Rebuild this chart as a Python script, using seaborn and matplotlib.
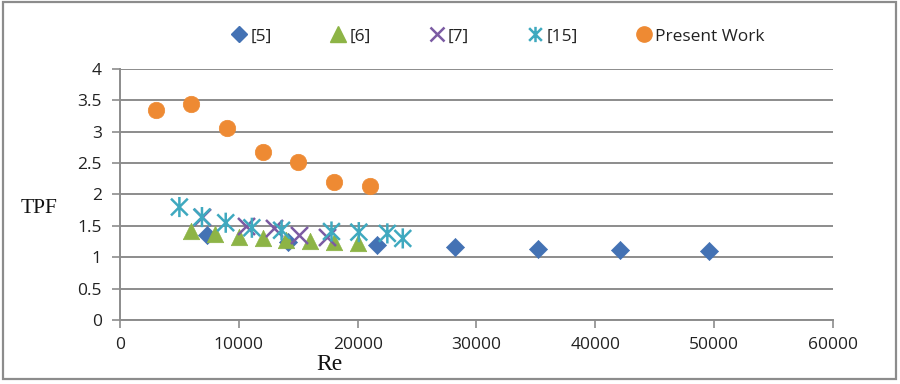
import matplotlib
matplotlib.use("Agg")
import matplotlib.pyplot as plt
from matplotlib.path import Path
from matplotlib.patches import Rectangle
from matplotlib.lines import Line2D
import seaborn as sns
import pandas as pd

# ---- data ----
re_5 = [7300, 14100, 21600, 28200, 35200, 42100, 49600]
tpf_5 = [1.36, 1.24, 1.20, 1.16, 1.13, 1.11, 1.10]

re_6 = [6000, 8000, 10000, 12000, 14000, 16000, 18000, 20000]
tpf_6 = [1.42, 1.37, 1.33, 1.30, 1.27, 1.26, 1.24, 1.22]

re_7 = [6900, 10600, 13000, 15100, 17400]
tpf_7 = [1.64, 1.50, 1.46, 1.36, 1.32]

re_15 = [5000, 6900, 8900, 11100, 13600, 17800, 20100, 22500, 23800]
tpf_15 = [1.80, 1.64, 1.55, 1.47, 1.43, 1.41, 1.40, 1.38, 1.30]

re_pw = [3000, 6000, 9000, 12000, 15000, 18000, 21000]
tpf_pw = [3.35, 3.45, 3.06, 2.67, 2.51, 2.20, 2.14]

labels = ["[5]", "[6]", "[7]", "[15]", "Present Work"]
x_ticks = [0, 10000, 20000, 30000, 40000, 50000, 60000]
y_ticks = [0, 0.5, 1, 1.5, 2, 2.5, 3, 3.5, 4]

# ---- style ----
sns.set_theme(style="white")
plt.rcParams["font.family"] = ["Open Sans", "DejaVu Sans"]

colors = ["#4472B4", "#8DB446", "#7B5BA3", "#3FA9BF", "#EE8A33"]

star = Path(
    [(-1, -1), (1, 1), (-1, 1), (1, -1), (0, -1.2), (0, 1.2)],
    [Path.MOVETO, Path.LINETO, Path.MOVETO, Path.LINETO, Path.MOVETO, Path.LINETO],
)

fig = plt.figure(figsize=(9, 3.84), dpi=100)
ax = fig.add_axes([0.1333, 0.1667, 0.7922, 0.6536])

# [5]
sns.scatterplot(data=pd.DataFrame({"Re": re_5, "TPF": tpf_5}), x="Re", y="TPF",
                ax=ax, marker="D", s=85, color=colors[0], edgecolor=colors[0],
                linewidth=0.5, zorder=3, legend=False)
# [6]
sns.scatterplot(data=pd.DataFrame({"Re": re_6, "TPF": tpf_6}), x="Re", y="TPF",
                ax=ax, marker="^", s=140, color=colors[1], edgecolor=colors[1],
                linewidth=0.5, zorder=3, legend=False)
# [7]
sns.scatterplot(data=pd.DataFrame({"Re": re_7, "TPF": tpf_7}), x="Re", y="TPF",
                ax=ax, marker="x", s=150, color=colors[2], linewidth=1.8,
                zorder=3, legend=False)
# [15]
sns.scatterplot(data=pd.DataFrame({"Re": re_15, "TPF": tpf_15}), x="Re", y="TPF",
                ax=ax, marker=star, s=210, color=colors[3], edgecolor=colors[3],
                facecolor="none", linewidth=1.8, zorder=3, legend=False)
# Present Work
sns.scatterplot(data=pd.DataFrame({"Re": re_pw, "TPF": tpf_pw}), x="Re", y="TPF",
                ax=ax, marker="o", s=140, color=colors[4], edgecolor=colors[4],
                linewidth=0.5, zorder=3, legend=False)

ax.set_xlim(0, 60000)
ax.set_ylim(0, 4)
ax.set_xticks(x_ticks)
ax.set_xticklabels([str(v) for v in x_ticks])
ax.set_yticks(y_ticks)
ax.set_yticklabels(["0", "0.5", "1", "1.5", "2", "2.5", "3", "3.5", "4"])

grid_c = "#8C8C8C"
ax.grid(axis="y", color=grid_c, linewidth=1.4)
ax.set_axisbelow(True)
for side in ["top", "right"]:
    ax.spines[side].set_visible(False)
for side in ["left", "bottom"]:
    ax.spines[side].set_color(grid_c)
    ax.spines[side].set_linewidth(1.4)
ax.tick_params(axis="both", which="major", direction="out", length=6,
               width=1.2, color=grid_c, labelsize=12.5, labelcolor="#222222",
               bottom=True, left=True)
ax.tick_params(axis="y", pad=7)
ax.tick_params(axis="x", pad=6)

ax.set_xlabel("")
ax.set_ylabel("")
fig.text(0.043, 0.456, "TPF", fontsize=15.5, family=["Liberation Serif"],
         ha="center", va="center", color="#111111")
fig.text(0.366, 0.052, "Re", fontsize=17, family=["Liberation Serif"],
         ha="center", va="center", color="#111111")

# legend
handles = [
    Line2D([], [], linestyle="none", marker="D", markersize=8.5,
           color=colors[0]),
    Line2D([], [], linestyle="none", marker="^", markersize=11,
           color=colors[1]),
    Line2D([], [], linestyle="none", marker="x", markersize=10,
           markeredgewidth=1.8, color=colors[2]),
    Line2D([], [], linestyle="none", marker=star, markersize=11,
           markeredgewidth=1.8, color=colors[3], markerfacecolor="none"),
    Line2D([], [], linestyle="none", marker="o", markersize=11,
           color=colors[4]),
]
fig.legend(handles, labels, loc="center", bbox_to_anchor=(0.553, 0.905),
           ncol=5, frameon=False, fontsize=12.5, handlelength=1.0,
           handletextpad=0.15, columnspacing=3.3, labelcolor="#222222")

# outer border
fig.patches.append(Rectangle((0.003, 0.013), 0.992, 0.982,
                             transform=fig.transFigure, fill=False,
                             edgecolor="#8C8C8C", linewidth=1.6))

fig.savefig("out.png", dpi=100)
